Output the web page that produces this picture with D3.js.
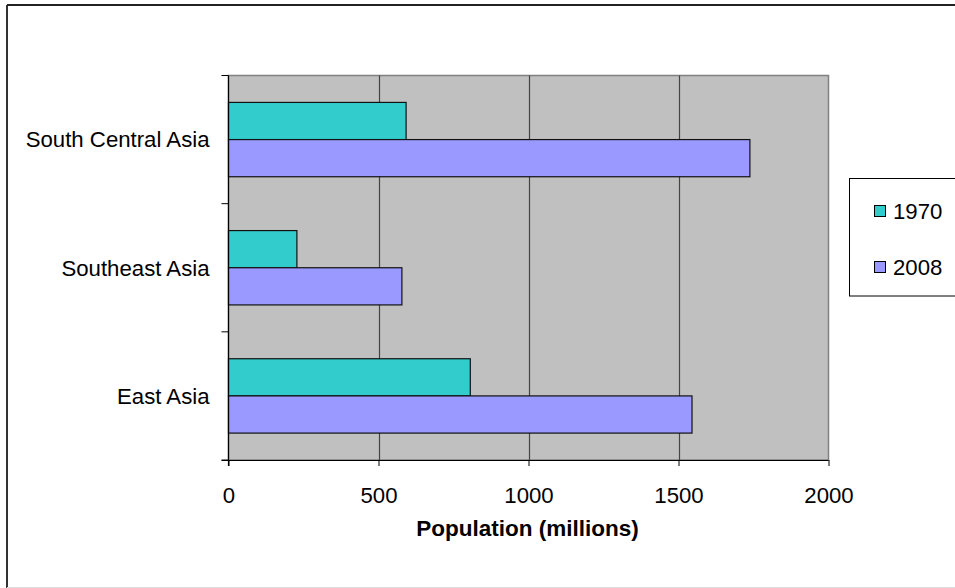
<!DOCTYPE html>
<html>
<head>
<meta charset="utf-8">
<script src="https://cdn.jsdelivr.net/npm/d3@7"></script>
<style>
  html, body { margin: 0; padding: 0; background: #fff; }
  svg { display: block; font-family: "Liberation Sans", Arial, sans-serif; }
</style>
</head>
<body>
<svg id="chart" width="955" height="588"></svg>
<script>
// Data
const categories = ["South Central Asia", "Southeast Asia", "East Asia"];
const seriesNames = ["1970", "2008"];
const values1970 = [592, 228, 806];
const values2008 = [1738, 578, 1545];
const xTicks = [0, 500, 1000, 1500, 2000];
const xTitle = "Population (millions)";
const colors = ["#33CCCC", "#9999FF"];

const svg = d3.select("#chart");
const W = 955, H = 588;
const plot = { left: 228.5, right: 828.5, top: 75.5, bottom: 460 };
const FS = 22.2;

// Outer frame
svg.append("line").attr("x1", 7).attr("x2", 7).attr("y1", 5).attr("y2", H)
  .attr("stroke", "#333").attr("stroke-width", 2);
svg.append("line").attr("x1", 7).attr("x2", W).attr("y1", 5).attr("y2", 5)
  .attr("stroke", "#222").attr("stroke-width", 2);
svg.append("line").attr("x1", 7).attr("x2", W).attr("y1", 587.5).attr("y2", 587.5)
  .attr("stroke", "#ddd").attr("stroke-width", 1);

const x = d3.scaleLinear().domain([0, 2000]).range([plot.left, plot.right]);
const y0 = d3.scaleBand().domain(categories).range([plot.top, plot.bottom])
  .paddingInner(0.42).paddingOuter(0.21);
const y1 = d3.scaleBand().domain(seriesNames).range([0, y0.bandwidth()]);

// Plot background
svg.append("rect").attr("x", plot.left).attr("y", plot.top)
  .attr("width", plot.right - plot.left).attr("height", plot.bottom - plot.top)
  .attr("fill", "#C0C0C0").attr("stroke", "#808080").attr("stroke-width", 1.5);

// Gridlines
svg.append("g").selectAll("line").data(xTicks.filter(d => d > 0 && d < 2000)).join("line")
  .attr("x1", d => Math.round(x(d)) + 0.5).attr("x2", d => Math.round(x(d)) + 0.5)
  .attr("y1", plot.top).attr("y2", plot.bottom)
  .attr("stroke", "#444").attr("stroke-width", 1.2);

// Bars
const data = categories.map((c, i) => ({ cat: c, vals: [values1970[i], values2008[i]] }));
const groups = svg.append("g").selectAll("g").data(data).join("g")
  .attr("transform", d => `translate(0,${y0(d.cat)})`);
groups.selectAll("rect").data(d => d.vals.map((v, j) => ({ v, s: seriesNames[j], j }))).join("rect")
  .attr("x", x(0))
  .attr("y", d => y1(d.s))
  .attr("width", d => x(d.v) - x(0))
  .attr("height", y1.bandwidth())
  .attr("fill", d => colors[d.j])
  .attr("stroke", "#111").attr("stroke-width", 1.2);

// X axis
const xAxis = svg.append("g").attr("transform", `translate(0,${plot.bottom})`)
  .call(d3.axisBottom(x).tickValues(xTicks).tickSize(6).tickPadding(21).tickFormat(d3.format("d")));
xAxis.select(".domain").attr("stroke", "#000").attr("stroke-width", 1.2)
  .attr("d", `M${plot.left - 7},0.5H${plot.right}`);
xAxis.selectAll(".tick line").attr("stroke", "#000");
xAxis.selectAll("text").attr("font-size", FS).attr("fill", "#000")
  .attr("font-family", "Liberation Sans, Arial, sans-serif");

// Y axis with ticks at band boundaries
const yAxisG = svg.append("g");
yAxisG.append("line").attr("x1", plot.left).attr("x2", plot.left)
  .attr("y1", plot.top).attr("y2", plot.bottom + 6).attr("stroke", "#000").attr("stroke-width", 1.2);
const bounds = [plot.top].concat(categories.map(c => y0(c) - y0.step() * y0.paddingInner() / 2 + y0.step()));
yAxisG.selectAll("line.tk").data(bounds).join("line").attr("class", "tk")
  .attr("x1", plot.left - 7).attr("x2", plot.left)
  .attr("y1", d => d).attr("y2", d => d).attr("stroke", "#000").attr("stroke-width", 1);
yAxisG.selectAll("text").data(categories).join("text")
  .attr("x", 209.5).attr("y", d => y0(d) + y0.bandwidth() / 2)
  .attr("dy", "0.35em").attr("text-anchor", "end")
  .attr("font-size", FS).attr("fill", "#000").text(d => d);

// X title
svg.append("text").attr("x", (plot.left + plot.right) / 2 - 1).attr("y", 536)
  .attr("text-anchor", "middle").attr("font-size", FS + 0.3).attr("font-weight", "bold")
  .attr("fill", "#000").text(xTitle);

// Legend
const lg = svg.append("g");
lg.append("rect").attr("x", 849.5).attr("y", 178.5).attr("width", 120).attr("height", 117.5)
  .attr("fill", "#fff").attr("stroke", "#000").attr("stroke-width", 1);
const items = lg.selectAll("g").data(seriesNames).join("g")
  .attr("transform", (d, i) => `translate(0,${211 + i * 56})`);
items.append("rect").attr("x", 874.5).attr("y", -5.5).attr("width", 11).attr("height", 11)
  .attr("fill", (d, i) => colors[i]).attr("stroke", "#000").attr("stroke-width", 1);
items.append("text").attr("x", 893).attr("y", 0).attr("dy", "0.35em")
  .attr("font-size", FS).attr("fill", "#000").text(d => d);
</script>
</body>
</html>
